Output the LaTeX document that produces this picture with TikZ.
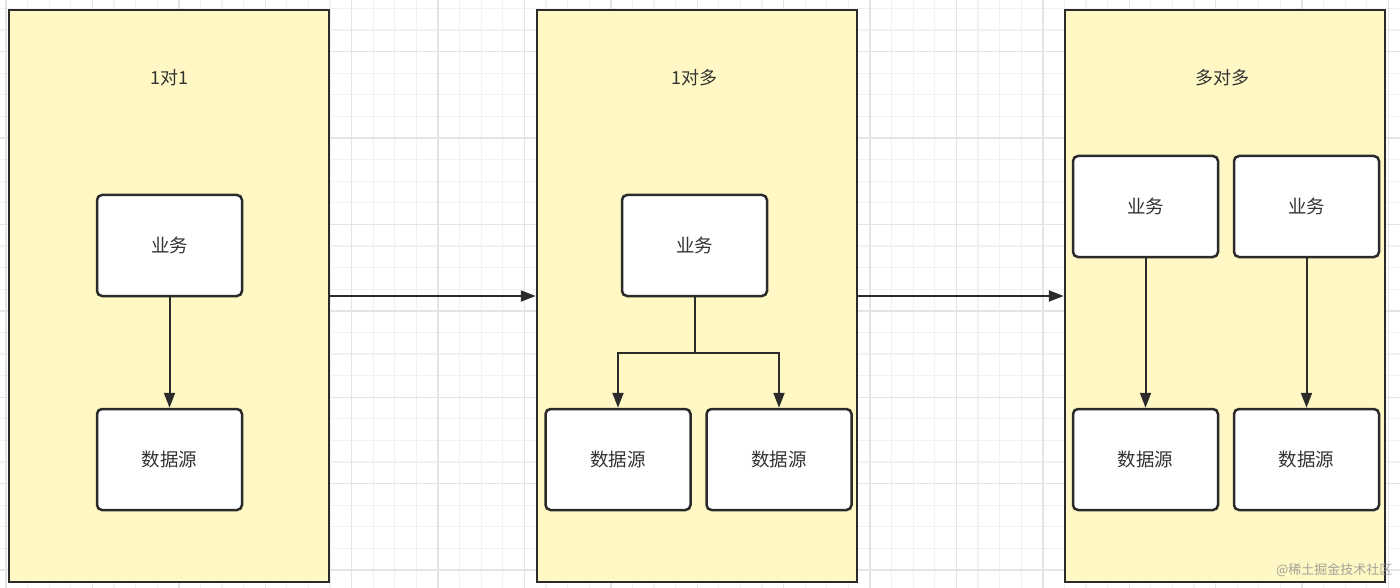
\documentclass[tikz,border=0pt]{standalone}
\usepackage{fontspec}
\setmainfont{Noto Sans CJK SC}
\usetikzlibrary{arrows.meta}
\definecolor{panelfill}{HTML}{FFF8C4}
\definecolor{ink}{HTML}{2B2B2B}
\definecolor{txt}{HTML}{333333}
\definecolor{minorgrid}{HTML}{F1F1F1}
\definecolor{majorgrid}{HTML}{E4E4E4}
\begin{document}
\begin{tikzpicture}[x=1pt,y=-1pt,
  panel/.style={draw=ink,line width=2.5pt,fill=panelfill,rectangle,minimum width=320pt,minimum height=572pt,inner sep=0pt},
  ttl/.style={text=txt,font=\fontsize{18}{20}\selectfont},
  box/.style={draw=ink,line width=2.5pt,fill=white,rectangle,rounded corners=5pt,minimum width=145pt,minimum height=101pt,inner sep=0pt,text=txt,font=\fontsize{18.5}{20}\selectfont},
  conn/.style={draw=ink,line width=2pt},
  arr/.style={conn,-{Triangle[length=15pt,width=11pt]}}
]
\useasboundingbox (0,0) rectangle (1400,588);
\fill[white] (0,0) rectangle (1400,588);
% grid
\foreach \k in {0,...,64} {\draw[minorgrid,line width=1.2pt] ({6+21.6*\k},0) -- ({6+21.6*\k},588);}
\foreach \k in {0,...,27} {\draw[minorgrid,line width=1.2pt] (0,{8.4+21.6*\k}) -- (1400,{8.4+21.6*\k});}
\foreach \k in {0,...,16} {\draw[majorgrid,line width=1.4pt] ({6+86.4*\k},0) -- ({6+86.4*\k},588);}
\foreach \k in {0,...,6} {\draw[majorgrid,line width=1.4pt] (0,{51.6+86.4*\k}) -- (1400,{51.6+86.4*\k});}
% panels
\node[panel] (p1) at (169,296) {};
\node[panel] (p2) at (697,296) {};
\node[panel] (p3) at (1225,296) {};
\node[ttl] (t1) at (169,78) {1对1};
\node[ttl] (t2) at (694,78) {1对多};
\node[ttl] (t3) at (1222,78) {多对多};
% panel 1
\node[box] (b1) at (169.5,245.5) {业务};
\node[box] (d1) at (169.5,459.5) {数据源};
\draw[arr] (b1.south) -- (d1.north);
% panel 2
\node[box] (b2) at (694.5,245.5) {业务};
\node[box] (d2a) at (618,459.5) {数据源};
\node[box] (d2b) at (779,459.5) {数据源};
\coordinate (j2) at (694.5,353);
\draw[conn] (b2.south) -- (j2);
\draw[arr] (j2) -| (d2a.north);
\draw[arr] (j2) -| (d2b.north);
% panel 3
\node[box] (b3a) at (1145.5,206.5) {业务};
\node[box] (b3b) at (1306.5,206.5) {业务};
\node[box] (d3a) at (1145.5,459.5) {数据源};
\node[box] (d3b) at (1306.5,459.5) {数据源};
\draw[arr] (b3a.south) -- (d3a.north);
\draw[arr] (b3b.south) -- (d3b.north);
% between panels
\draw[arr] (p1.east) -- (p2.west);
\draw[arr] (p2.east) -- (p3.west);
% watermark
\node[text=black!45,opacity=0.8,font=\fontsize{13}{14}\selectfont,anchor=east] (wm) at (1396,570) {@稀土掘金技术社区};
\end{tikzpicture}
\end{document}
